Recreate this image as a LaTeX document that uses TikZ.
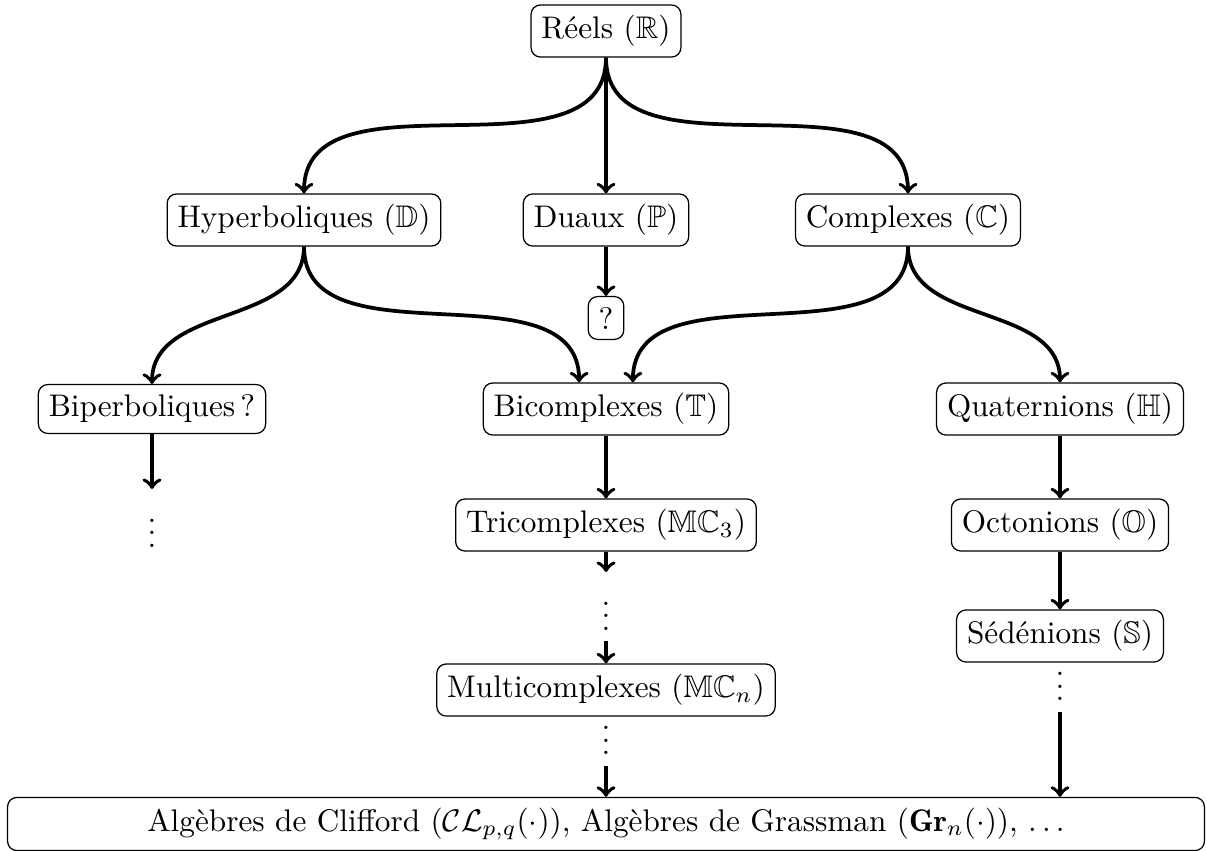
\documentclass[tikz,border=0pt]{standalone}
\usepackage{fontspec}
\usepackage{amssymb}
\begin{document}
\begin{tikzpicture}[x=0.32pt,y=0.32pt,
  box/.style={draw, rounded corners=3pt, inner sep=3.33pt, line width=0.4pt},
  arr/.style={->, very thick},
  dotsnode/.style={inner sep=3.33pt}]
\useasboundingbox (0,0) rectangle (1207,-851);
% nodes
\node[box] (R) at (606,-31) {Réels ($\mathbb{R}$)};
\node[box] (D) at (304,-220) {Hyperboliques ($\mathbb{D}$)};
\node[box] (P) at (606,-220) {Duaux ($\mathbb{P}$)};
\node[box] (C) at (908,-220) {Complexes ($\mathbb{C}$)};
\node[box] (Q) at (606,-318) {?};
\node[box] (Bip) at (152,-409) {Biperboliques\,?};
\node[box] (T) at (606,-409) {Bicomplexes ($\mathbb{T}$)};
\node[box] (H) at (1060,-409) {Quaternions ($\mathbb{H}$)};
\node[dotsnode, anchor=north] (vd1) at (152,-489) {$\vdots$};
\node[box] (Tri) at (606,-525) {Tricomplexes ($\mathbb{MC}_3$)};
\node[box] (O) at (1060,-525) {Octonions ($\mathbb{O}$)};
\node[dotsnode, anchor=north] (vd2) at (606,-572) {$\vdots$};
\node[box] (S) at (1060,-636) {Sédénions ($\mathbb{S}$)};
\node[box] (M) at (606,-690) {Multicomplexes ($\mathbb{MC}_n$)};
\node[dotsnode, anchor=south] (vd3) at (1060,-712) {$\vdots$};
\node[dotsnode, anchor=south] (vd4) at (606,-766) {$\vdots$};
\node[box, minimum width=383pt, minimum height=16pt] (B) at (606,-824)
  {Algèbres de Clifford ($\mathcal{CL}_{p,q}(\cdot)$), Algèbres de Grassman ($\mathbf{Gr}_n(\cdot)$), $\ldots$};
% connectors
\draw[arr] (R.south) to[out=-90,in=90] (D.north);
\draw[arr] (R.south) -- (P.north);
\draw[arr] (R.south) to[out=-90,in=90] (C.north);
\draw[arr] (P.south) -- (Q.north);
\draw[arr] (D.south) to[out=-90,in=90] (Bip.north);
\draw[arr] (D.south) to[out=-90,in=90] ([xshift=-8.6pt]T.north);
\draw[arr] (C.south) to[out=-90,in=90] ([xshift=8.6pt]T.north);
\draw[arr] (C.south) to[out=-90,in=90] (H.north);
\draw[arr] (Bip.south) -- (vd1.north);
\draw[arr] (T.south) -- (Tri.north);
\draw[arr] (Tri.south) -- (vd2.north);
\draw[arr] (vd2.south) -- (M.north);
\draw[arr] (H.south) -- (O.north);
\draw[arr] (O.south) -- (S.north);
\draw[arr] (vd4.south) -- (vd4.south |- B.north);
\draw[arr] (vd3.south) -- (vd3.south |- B.north);
\end{tikzpicture}
\end{document}
